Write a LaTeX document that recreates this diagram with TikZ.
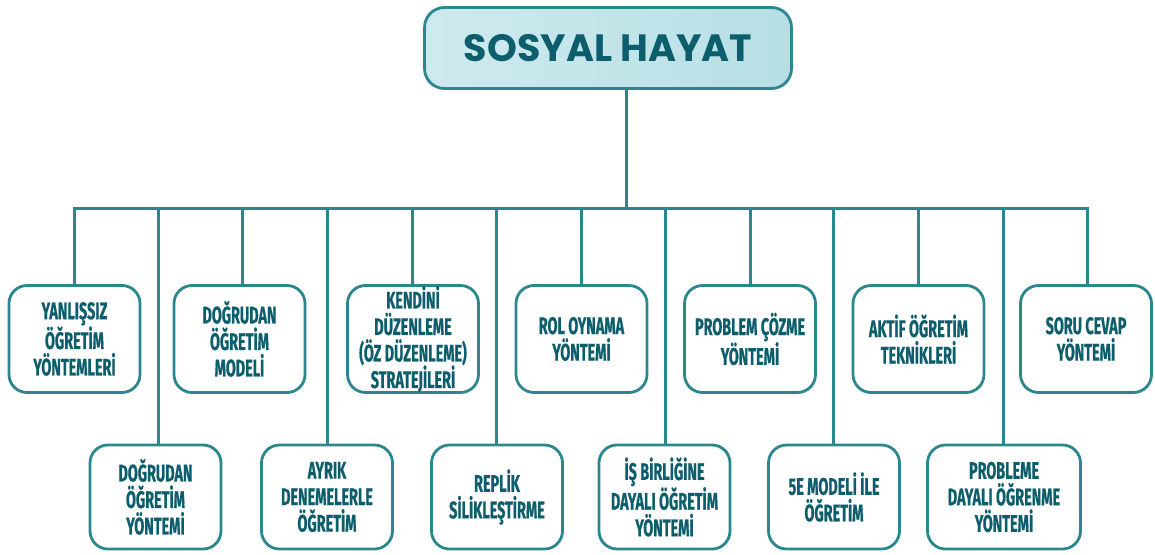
\documentclass[tikz,border=0pt]{standalone}
\usepackage{fontspec}
\newfontfamily\condfont{Fira Sans}[FakeStretch=0.6, FakeBold=0.6]
\newfontfamily\titlefont{Poppins}
\definecolor{tealtext}{HTML}{0D5E6C}
\definecolor{tealline}{HTML}{2B878E}
\definecolor{titleL}{HTML}{CFEAEF}
\definecolor{titleR}{HTML}{B6DFE4}
\tikzset{
  conn/.style={draw=tealline, line width=3pt, line join=miter},
  child/.style={draw=tealline, line width=2.8pt, rounded corners=18pt, fill=white,
    minimum width=131pt, inner sep=0pt, align=center, text=tealtext,
    font=\condfont\bfseries\fontsize{24}{26.5}\selectfont},
  toprow/.style={child, minimum height=107pt},
  botrow/.style={child, minimum height=104pt},
  titlebox/.style={draw=tealline, line width=2.8pt, rounded corners=20pt,
    left color=titleL, right color=titleR, minimum width=367pt, minimum height=81pt,
    inner sep=0pt, text=tealtext, font=\titlefont\bfseries\fontsize{38}{40}\selectfont}
}
\begin{document}
\begin{tikzpicture}[x=1pt,y=-1pt]
\useasboundingbox (0,0) rectangle (1155,554);
\node[titlebox] (title) at (608,48) {SOSYAL HAYAT};
% top row
\node[toprow] (c0)  at (74.5,339)  {YANLIŞSIZ\\ÖĞRETİM\\YÖNTEMLERİ};
\node[toprow] (c2)  at (239.5,339) {DOĞRUDAN\\ÖĞRETİM\\MODELİ};
\node[toprow] (c4)  at (413,339)   {KENDİNİ\\DÜZENLEME\\(ÖZ DÜZENLEME)\\STRATEJİLERİ};
\node[toprow] (c6)  at (581.5,339) {ROL OYNAMA\\YÖNTEMİ};
\node[toprow] (c8)  at (750,339)   {PROBLEM ÇÖZME\\YÖNTEMİ};
\node[toprow] (c10) at (918.5,339) {AKTİF ÖĞRETİM\\TEKNİKLERİ};
\node[toprow] (c12) at (1086,339)  {SORU CEVAP\\YÖNTEMİ};
% bottom row
\node[botrow] (c1)  at (155.5,497) {DOĞRUDAN\\ÖĞRETİM\\YÖNTEMİ};
\node[botrow] (c3)  at (327,497)   {AYRIK\\DENEMELERLE\\ÖĞRETİM};
\node[botrow] (c5)  at (497,497)   {REPLİK\\SİLİKLEŞTİRME};
\node[botrow] (c7)  at (664.5,497) {İŞ BİRLİĞİNE\\DAYALI ÖĞRETİM\\YÖNTEMİ};
\node[botrow] (c9)  at (834,497)   {5E MODELİ İLE\\ÖĞRETİM};
\node[botrow, minimum width=153pt] (c11) at (1004,497) {PROBLEME\\DAYALI ÖĞRENME\\YÖNTEMİ};
% connectors
\draw[conn] (title.south -| 626,0) -- (626,208);
\draw[conn] (c0.north -| 74,0) -- (74,208) -- (1087,208) -- (c12.north -| 1087,0);
\draw[conn] (c2.north -| 242,0) -- (242,208);
\draw[conn] (c4.north -| 412,0) -- (412,208);
\draw[conn] (c6.north -| 581,0) -- (581,208);
\draw[conn] (c8.north -| 750,0) -- (750,208);
\draw[conn] (c10.north -| 918,0) -- (918,208);
\draw[conn] (c1.north -| 158,0) -- (158,208);
\draw[conn] (c3.north -| 327,0) -- (327,208);
\draw[conn] (c5.north -| 496,0) -- (496,208);
\draw[conn] (c7.north -| 665,0) -- (665,208);
\draw[conn] (c9.north -| 833,0) -- (833,208);
\draw[conn] (c11.north -| 1003,0) -- (1003,208);
\end{tikzpicture}
\end{document}
